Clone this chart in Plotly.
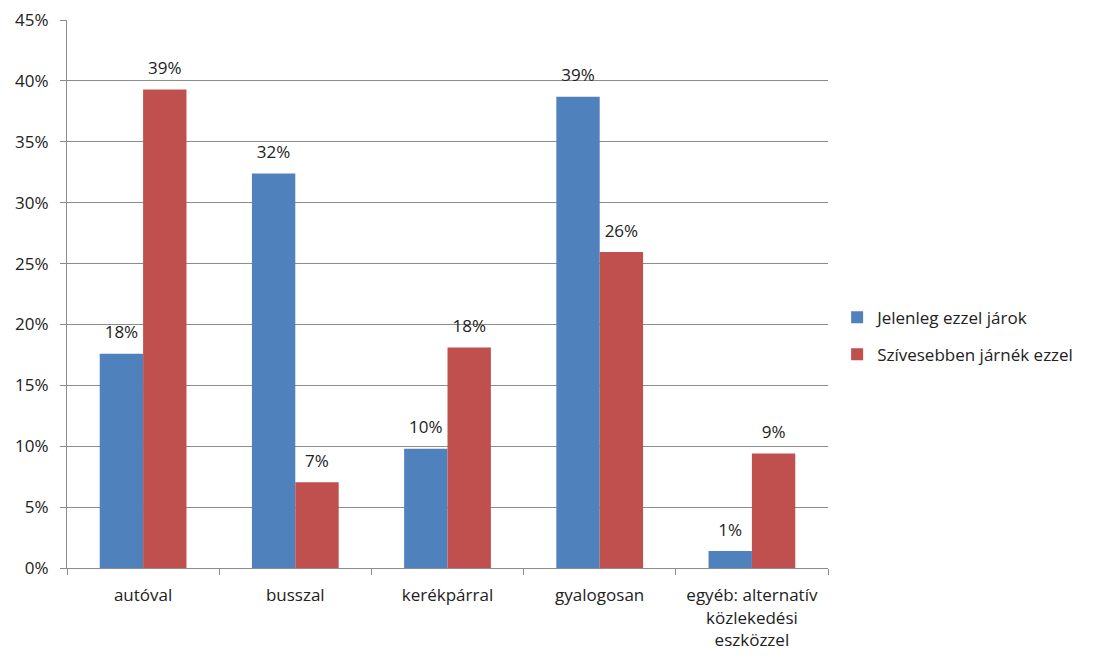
import plotly.graph_objects as go

categories = ["autóval", "busszal", "kerékpárral", "gyalogosan", "egyéb: alternatív<br>közlekedési<br>eszközzel"]
jelenleg = [17.6, 32.4, 9.8, 38.7, 1.4]
szivesebben = [39.3, 7.05, 18.1, 25.95, 9.4]
series_names = ["Jelenleg ezzel járok", "Szívesebben járnék ezzel"]
colors = ["#4F81BD", "#C0504D"]
yticks = [0, 5, 10, 15, 20, 25, 30, 35, 40, 45]

font = "Open Sans, sans-serif"
txt = "#222222"
fs = 17
fig = go.Figure()
for i, (name, vals) in enumerate(zip(series_names, [jelenleg, szivesebben])):
    fig.add_trace(go.Bar(
        x=categories, y=vals, name=name, marker_color=colors[i],
        marker_line_width=0, offsetgroup=str(i), alignmentgroup="g",
        legendgroup=str(i), hoverinfo="skip",
    ))
for i, vals in enumerate([jelenleg, szivesebben]):
    fig.add_trace(go.Scatter(
        x=categories, y=vals, mode="markers+text",
        marker=dict(size=16, opacity=0), showlegend=False,
        text=[f"{round(v):d}%" for v in vals], textposition="top center",
        textfont=dict(size=fs, color=txt, family=font),
        offsetgroup=str(i), alignmentgroup="g", cliponaxis=False,
    ))

fig.update_layout(
    width=1098, height=659,
    margin=dict(l=67, r=270, t=20, b=91, autoexpand=False),
    paper_bgcolor="white", plot_bgcolor="white",
    barmode="group", bargap=0.43, bargroupgap=0,
    scattermode="group", scattergap=0.43,
    font=dict(family=font, size=fs, color=txt),
    legend=dict(x=1.012, xanchor="left", y=0.423, yanchor="middle",
                tracegroupgap=12, font=dict(size=fs, color=txt),
                itemwidth=30),
    showlegend=True,
)
fig.update_yaxes(
    range=[0, 45], tickvals=yticks, ticktext=[f"{v}%" for v in yticks],
    showgrid=True, gridcolor="#8C8C8C", gridwidth=1,
    showline=True, linecolor="#8C8C8C", linewidth=1,
    ticks="outside", ticklen=6, tickcolor="#8C8C8C",
    zeroline=False, tickfont=dict(size=fs), ticklabelstandoff=8,
    automargin=False,
)
fig.update_xaxes(
    showline=True, linecolor="#8C8C8C", linewidth=1,
    ticks="outside", ticklen=6, tickcolor="#8C8C8C", tickson="boundaries",
    tickfont=dict(size=fs), ticklabelstandoff=12, automargin=False,
)
fig.write_html("out.html")
